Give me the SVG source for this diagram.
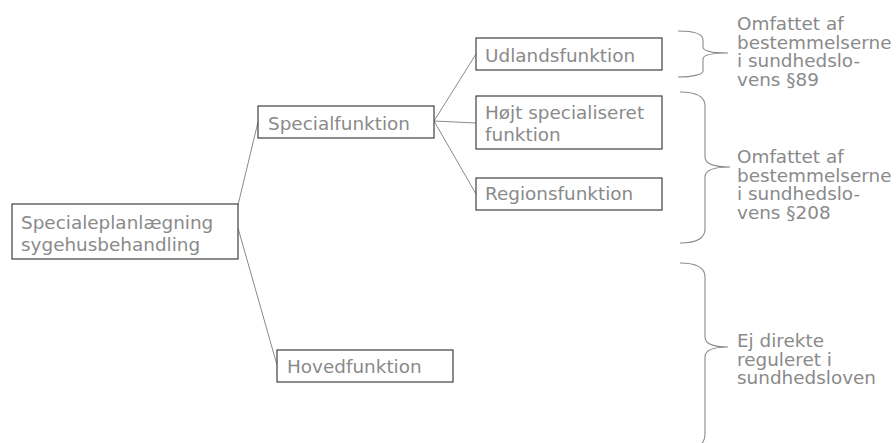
<svg xmlns="http://www.w3.org/2000/svg" width="896" height="443" viewBox="0 0 896 443">
<style>
.box{fill:#fff;stroke:#404040;stroke-width:1.2}
.t{font-family:"DejaVu Sans","Verdana",sans-serif;font-size:18.4px;fill:#8a8a8a}
.c{stroke:#8a8a8a;stroke-width:1;fill:none}
.b{stroke:#8a8a8a;stroke-width:1.1;fill:none}
</style>
<rect width="896" height="443" fill="#fff"/>
<g id="connectors">
<line class="c" x1="238" y1="205" x2="258" y2="122"/>
<line class="c" x1="238" y1="228" x2="277" y2="365"/>
<line class="c" x1="434" y1="121" x2="476" y2="54"/>
<line class="c" x1="434" y1="121" x2="476" y2="123"/>
<line class="c" x1="434" y1="121" x2="476" y2="194"/>
</g>
<g id="n-root">
<rect class="box" x="12" y="204" width="226" height="55"/>
<text class="t" x="21" y="229">Specialeplanlægning</text>
<text class="t" x="21" y="251">sygehusbehandling</text>
</g>
<g id="n-special">
<rect class="box" x="258" y="106" width="176" height="32"/>
<text class="t" x="268" y="130">Specialfunktion</text>
</g>
<g id="n-hoved">
<rect class="box" x="277" y="350" width="176" height="32"/>
<text class="t" x="287" y="373">Hovedfunktion</text>
</g>
<g id="n-udland">
<rect class="box" x="476" y="38" width="186" height="32"/>
<text class="t" x="485" y="62">Udlandsfunktion</text>
</g>
<g id="n-hoejt">
<rect class="box" x="476" y="96" width="186" height="53"/>
<text class="t" x="485" y="119">Højt specialiseret</text>
<text class="t" x="485" y="141">funktion</text>
</g>
<g id="n-region">
<rect class="box" x="476" y="178" width="186" height="32"/>
<text class="t" x="485" y="200">Regionsfunktion</text>
</g>
<g id="brace-89">
<path class="b" d="M678,31 C694,31 703,34 703,40 L703,47 C703,51 710,53 728,53 C710,53 703,55 703,59 L703,71 C703,74 694,77 678,77"/>
<text class="t" x="737" y="30">Omfattet af</text>
<text class="t" x="737" y="48.5">bestemmelserne</text>
<text class="t" x="737" y="67">i sundhedslo-</text>
<text class="t" x="737" y="85.5">vens §89</text>
</g>
<g id="brace-208">
<path class="b" d="M680,92 C697,92 705,97 705,106 L705,157 C705,163 712,167 730,167 C712,167 705,171 705,177 L705,229 C705,238 697,243 680,243"/>
<text class="t" x="737" y="163">Omfattet af</text>
<text class="t" x="737" y="181.5">bestemmelserne</text>
<text class="t" x="737" y="200">i sundhedslo-</text>
<text class="t" x="737" y="218.5">vens §208</text>
</g>
<g id="brace-ej">
<path class="b" d="M680,263 C697,263 705,268 705,277 L705,337 C705,343 712,347 728,347 C712,347 705,351 705,357 L705,434 C705,440 703,443 698,447"/>
<text class="t" x="737" y="347">Ej direkte</text>
<text class="t" x="737" y="365.5">reguleret i</text>
<text class="t" x="737" y="384">sundhedsloven</text>
</g>
</svg>
